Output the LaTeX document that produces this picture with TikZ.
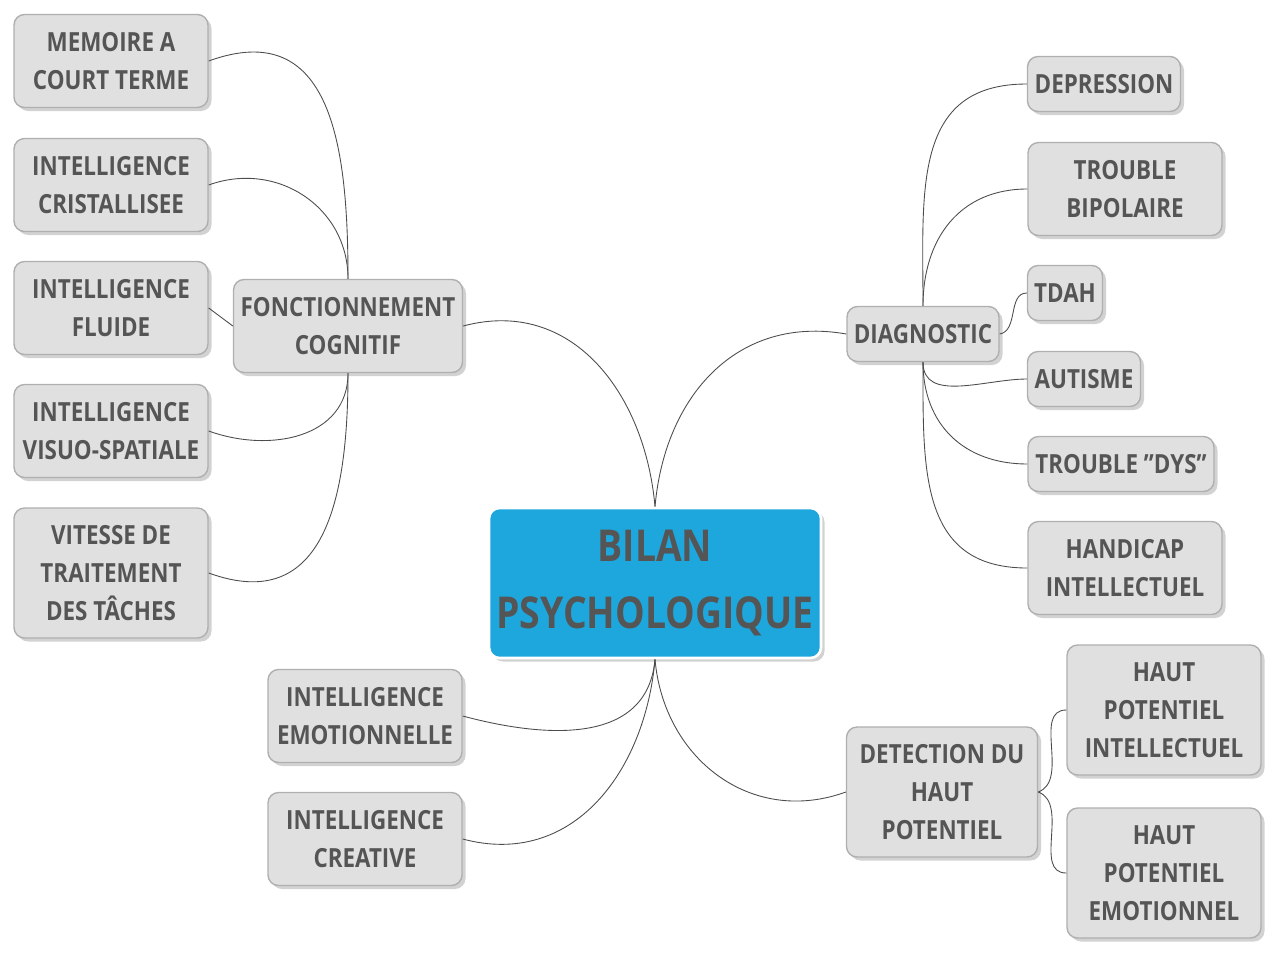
\documentclass[tikz,border=0pt]{standalone}
\usepackage{fontspec}
\setmainfont{Open Sans}[FakeStretch=0.85]
\usetikzlibrary{shadows}
\definecolor{boxfill}{RGB}{224,224,224}
\definecolor{boxline}{RGB}{175,175,175}
\definecolor{textgray}{RGB}{85,85,85}
\definecolor{bilanblue}{RGB}{30,167,221}
\tikzset{
  topic/.style={draw=boxline, fill=boxfill, rounded corners=6pt, thick,
    drop shadow={shadow xshift=2pt, shadow yshift=-2pt, fill=black!35},
    align=center, text=textgray, font=\bfseries\fontsize{15}{21.5}\selectfont,
    inner sep=0pt},
  link/.style={draw=black!70, line width=0.5pt}
}
\begin{document}
\begin{tikzpicture}[x=0.02cm, y=-0.02cm]
  \useasboundingbox (0,0) rectangle (1280,957);
  % centre
  \node[topic, fill=bilanblue, draw=white, line width=1.5pt, minimum width=332*0.02cm, minimum height=150*0.02cm,
    font=\bfseries\fontsize{25}{32}\selectfont] (bilan) at (655,583) {BILAN\\[6pt]PSYCHOLOGIQUE};
  % gauche
  \node[topic, minimum width=229*0.02cm, minimum height=93*0.02cm] (fc) at (348,326) {FONCTIONNEMENT\\COGNITIF};
  \node[topic, minimum width=194*0.02cm, minimum height=93*0.02cm] (mem) at (111,61) {MEMOIRE A\\COURT TERME};
  \node[topic, minimum width=194*0.02cm, minimum height=93*0.02cm] (cri) at (111,185) {INTELLIGENCE\\CRISTALLISEE};
  \node[topic, minimum width=194*0.02cm, minimum height=93*0.02cm] (flu) at (111,308) {INTELLIGENCE\\FLUIDE};
  \node[topic, minimum width=194*0.02cm, minimum height=93*0.02cm] (vis) at (111,431) {INTELLIGENCE\\VISUO-SPATIALE};
  \node[topic, minimum width=194*0.02cm, minimum height=130*0.02cm] (vit) at (111,573) {VITESSE DE\\TRAITEMENT\\DES TÂCHES};
  \node[topic, minimum width=194*0.02cm, minimum height=93*0.02cm] (emo) at (365,716) {INTELLIGENCE\\EMOTIONNELLE};
  \node[topic, minimum width=194*0.02cm, minimum height=93*0.02cm] (cre) at (365,839) {INTELLIGENCE\\CREATIVE};
  % droite
  \node[topic, minimum width=152*0.02cm, minimum height=55*0.02cm] (diag) at (923,334) {DIAGNOSTIC};
  \node[topic, minimum width=153*0.02cm, minimum height=55*0.02cm] (dep) at (1104,84) {DEPRESSION};
  \node[topic, minimum width=194*0.02cm, minimum height=93*0.02cm] (bip) at (1125,189) {TROUBLE\\BIPOLAIRE};
  \node[topic, minimum width=75*0.02cm, minimum height=55*0.02cm] (tdah) at (1065,293) {TDAH};
  \node[topic, minimum width=113*0.02cm, minimum height=55*0.02cm] (aut) at (1084,379) {AUTISME};
  \node[topic, minimum width=186*0.02cm, minimum height=55*0.02cm] (dys) at (1121,464) {TROUBLE \symbol{34}DYS\symbol{34}};
  \node[topic, minimum width=194*0.02cm, minimum height=93*0.02cm] (hand) at (1125,568) {HANDICAP\\INTELLECTUEL};
  \node[topic, minimum width=191*0.02cm, minimum height=130*0.02cm] (det) at (942,792) {DETECTION DU\\HAUT\\POTENTIEL};
  \node[topic, minimum width=194*0.02cm, minimum height=130*0.02cm] (hpi) at (1164,710) {HAUT\\POTENTIEL\\INTELLECTUEL};
  \node[topic, minimum width=194*0.02cm, minimum height=130*0.02cm] (hpe) at (1164,873) {HAUT\\POTENTIEL\\EMOTIONNEL};
  % liens
  \draw[link] (bilan.north) to[out=95,in=15,looseness=1.1] (fc.east);
  \draw[link] (bilan.north) to[out=85,in=170,looseness=1.1] (diag.west);
  \draw[link] (bilan.south) to[out=265,in=-15,looseness=1.1] (emo.east);
  \draw[link] (bilan.south) to[out=265,in=-15,looseness=1.1] (cre.east);
  \draw[link] (bilan.south) to[out=275,in=200,looseness=1.1] (det.west);
  \draw[link] (fc.north) to[out=90,in=20,looseness=1.3] (mem.east);
  \draw[link] (fc.north) to[out=90,in=20,looseness=1.1] (cri.east);
  \draw[link] (fc.west) -- (flu.east);
  \draw[link] (fc.south) to[out=270,in=-20,looseness=1.1] (vis.east);
  \draw[link] (fc.south) to[out=270,in=-20,looseness=1.3] (vit.east);
  \draw[link] (diag.north) to[out=90,in=180,looseness=1.2] (dep.west);
  \draw[link] (diag.north) to[out=90,in=180,looseness=1.1] (bip.west);
  \draw[link] (diag.east) to[out=10,in=180] (tdah.west);
  \draw[link] (diag.south) to[out=270,in=180] (aut.west);
  \draw[link] (diag.south) to[out=270,in=180,looseness=1.1] (dys.west);
  \draw[link] (diag.south) to[out=270,in=180,looseness=1.2] (hand.west);
  \draw[link] (det.east) to[out=20,in=180] (hpi.west);
  \draw[link] (det.east) to[out=-20,in=180] (hpe.west);
\end{tikzpicture}
\end{document}
